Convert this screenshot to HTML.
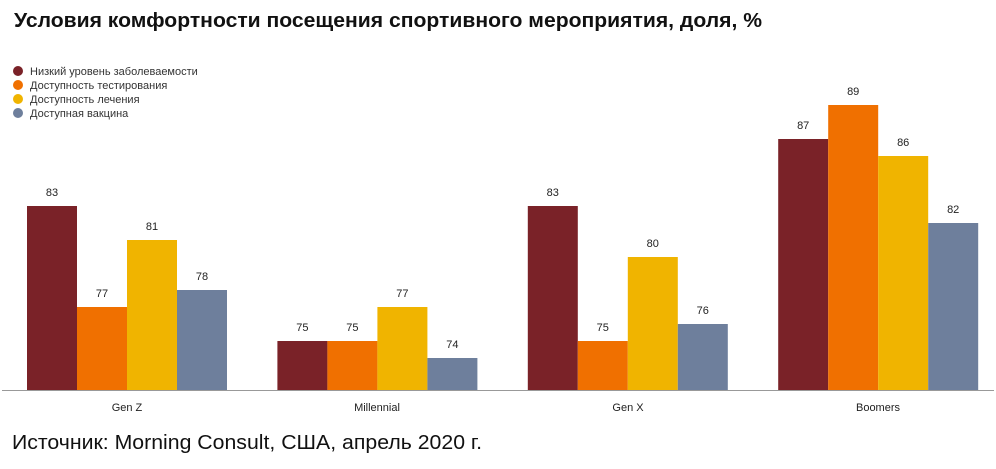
<!DOCTYPE html>
<html><head><meta charset="utf-8"><style>
body{margin:0;background:#fff;}
svg text{font-family:"Liberation Sans",sans-serif;}
</style></head><body>
<svg width="996" height="464" xmlns="http://www.w3.org/2000/svg">
<rect width="996" height="464" fill="#fff"/>
<text x="14" y="27" font-size="20" font-weight="bold" fill="#111" textLength="748" lengthAdjust="spacingAndGlyphs">Условия комфортности посещения спортивного мероприятия, доля, %</text>
<g font-size="11" fill="#333">
<circle cx="18" cy="71" r="5" fill="#7a2228"/><text x="30" y="75">Низкий уровень заболеваемости</text>
<circle cx="18" cy="85" r="5" fill="#f07000"/><text x="30" y="89">Доступность тестирования</text>
<circle cx="18" cy="99" r="5" fill="#f0b400"/><text x="30" y="103">Доступность лечения</text>
<circle cx="18" cy="113" r="5" fill="#6e7f9c"/><text x="30" y="117">Доступная вакцина</text>
</g>
<g>
<rect x="27" y="206" width="50" height="184" fill="#7a2228"/>
<rect x="77" y="307" width="50" height="83" fill="#f07000"/>
<rect x="127" y="240" width="50" height="150" fill="#f0b400"/>
<rect x="177" y="290" width="50" height="100" fill="#6e7f9c"/>
<rect x="277.4" y="341" width="50" height="49" fill="#7a2228"/>
<rect x="327.4" y="341" width="50" height="49" fill="#f07000"/>
<rect x="377.4" y="307" width="50" height="83" fill="#f0b400"/>
<rect x="427.4" y="358" width="50" height="32" fill="#6e7f9c"/>
<rect x="527.8" y="206" width="50" height="184" fill="#7a2228"/>
<rect x="577.8" y="341" width="50" height="49" fill="#f07000"/>
<rect x="627.8" y="257" width="50" height="133" fill="#f0b400"/>
<rect x="677.8" y="324" width="50" height="66" fill="#6e7f9c"/>
<rect x="778.2" y="139" width="50" height="251" fill="#7a2228"/>
<rect x="828.2" y="105" width="50" height="285" fill="#f07000"/>
<rect x="878.2" y="156" width="50" height="234" fill="#f0b400"/>
<rect x="928.2" y="223" width="50" height="167" fill="#6e7f9c"/>
</g>
<g font-size="11" fill="#222" text-anchor="middle">
<text x="52" y="196">83</text><text x="102" y="297">77</text><text x="152" y="230">81</text><text x="202" y="280">78</text>
<text x="302.4" y="331">75</text><text x="352.4" y="331">75</text><text x="402.4" y="297">77</text><text x="452.4" y="348">74</text>
<text x="552.8" y="196">83</text><text x="602.8" y="331">75</text><text x="652.8" y="247">80</text><text x="702.8" y="314">76</text>
<text x="803.2" y="129">87</text><text x="853.2" y="95">89</text><text x="903.2" y="146">86</text><text x="953.2" y="213">82</text>
</g>
<line x1="2" y1="390.5" x2="994" y2="390.5" stroke="#999"/>
<g font-size="11" fill="#222" text-anchor="middle">
<text x="127" y="411">Gen Z</text><text x="377" y="411">Millennial</text><text x="628" y="411">Gen X</text><text x="878" y="411">Boomers</text>
</g>
<text x="12" y="449" font-size="20" fill="#111" textLength="470" lengthAdjust="spacingAndGlyphs">Источник: Morning Consult, США, апрель 2020 г.</text>
</svg>
</body></html>
